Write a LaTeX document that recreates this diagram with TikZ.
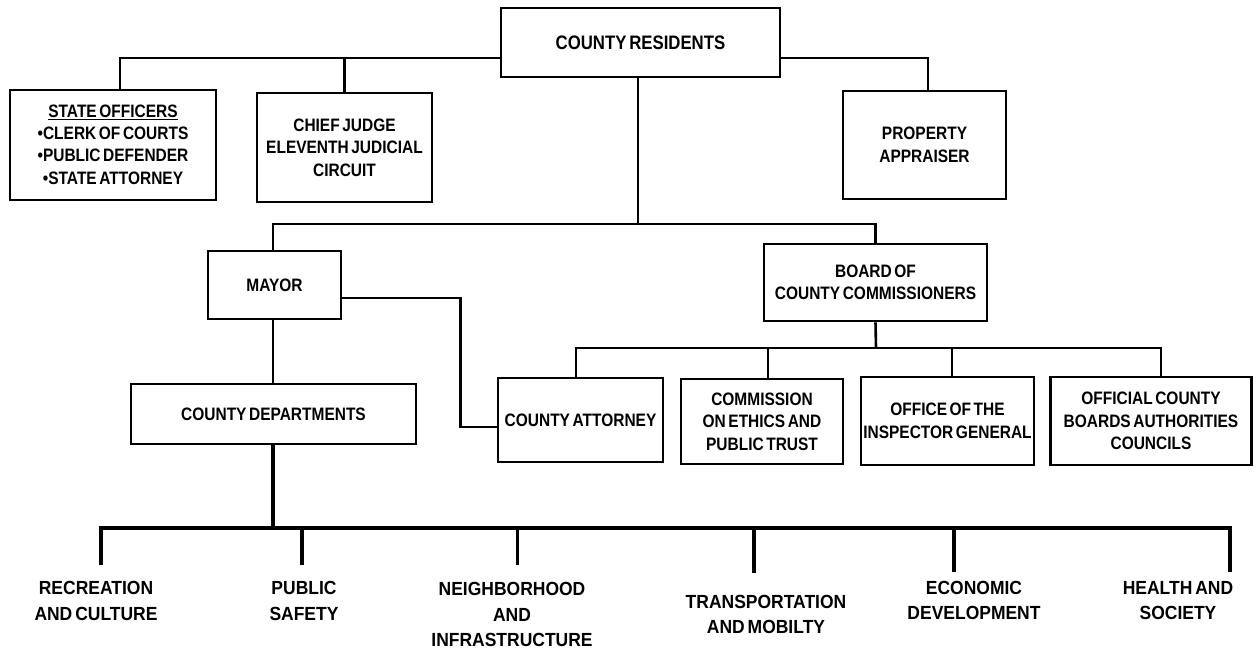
\documentclass[tikz,border=0pt]{standalone}
\usepackage{fontspec}
\setmainfont{Liberation Sans}[FakeStretch=0.86,WordSpace=0.6]
\newfontfamily\lblfont{Liberation Sans}[FakeStretch=0.92,WordSpace=0.6]
\begin{document}
\begin{tikzpicture}[x=1pt,y=-1pt,
  box/.style={draw,line width=2.7pt,inner sep=0pt,align=center,font=\fontsize{18}{22.5}\selectfont\bfseries},
  conn/.style={line width=2.6pt},
  bus/.style={line width=3.8pt},
  lbl/.style={align=center,inner sep=0pt,font=\lblfont\fontsize{19}{25.5}\selectfont\bfseries}]
\useasboundingbox (0,0) rectangle (1257,652);

% boxes
\node[box,minimum width=279pt,minimum height=69pt,font=\fontsize{19.5}{22.5}\selectfont\bfseries] (res) at (640.5,42.5) {COUNTY RESIDENTS};
\node[box,minimum width=206pt,minimum height=110pt] (state) at (113,145) {\underline{STATE OFFICERS}\\[-1pt] •CLERK OF COURTS\\ •PUBLIC DEFENDER\\ •STATE ATTORNEY};
\node[box,minimum width=175pt,minimum height=109pt] (chief) at (344.5,147.5) {CHIEF JUDGE\\ ELEVENTH JUDICIAL\\ CIRCUIT};
\node[box,minimum width=163pt,minimum height=108pt] (prop) at (924.5,145) {PROPERTY\\ APPRAISER};
\node[box,minimum width=133pt,minimum height=68pt] (mayor) at (274.5,285) {MAYOR};
\node[box,minimum width=223pt,minimum height=77pt] (board) at (875.5,282.5) {BOARD OF\\ COUNTY COMMISSIONERS};
\node[box,minimum width=285pt,minimum height=60pt] (dept) at (273.5,414) {COUNTY DEPARTMENTS};
\node[box,minimum width=165pt,minimum height=84pt] (att) at (580.5,420) {COUNTY ATTORNEY};
\node[box,minimum width=162pt,minimum height=85pt] (comm) at (762,421.5) {COMMISSION\\ ON ETHICS AND\\ PUBLIC TRUST};
\node[box,minimum width=173pt,minimum height=88pt] (insp) at (947.5,421) {OFFICE OF THE\\ INSPECTOR GENERAL};
\node[box,minimum width=201pt,minimum height=88pt] (off) at (1151,421) {OFFICIAL COUNTY\\ BOARDS AUTHORITIES\\ COUNCILS};

% bottom labels
\node[lbl] (rec) at (96,601) {RECREATION\\ AND CULTURE};
\node[lbl] (pub) at (304,601) {PUBLIC\\ SAFETY};
\node[lbl] (nei) at (512,614.5) {NEIGHBORHOOD\\ AND\\ INFRASTRUCTURE};
\node[lbl] (tra) at (766,614.5) {TRANSPORTATION\\ AND MOBILTY};
\node[lbl] (eco) at (974,600.5) {ECONOMIC\\ DEVELOPMENT};
\node[lbl] (hea) at (1178,600.5) {HEALTH AND\\ SOCIETY};

% junctions
\coordinate (j1) at ([yshift=-15.5pt]res.west);
\coordinate (j2) at (638,224);
\coordinate (j3) at (876,348);
\coordinate (bus) at (273,528);
\coordinate (b1) at (101,565);
\coordinate (b2) at (302,565);
\coordinate (b3) at (517.5,565);
\coordinate (b4) at (754,573);
\coordinate (b5) at (954,572);
\coordinate (b6) at (1230,572);

% top connectors
\draw[conn] (j1) -| ([xshift=7pt]state.north);
\draw[conn] (chief.north) -- (chief.north |- j1);
\draw[conn] ([yshift=-15.5pt]res.east) -| ([xshift=3.5pt]prop.north);
\draw[conn] ([xshift=-2.5pt]res.south) -- (j2);
\draw[conn] ([xshift=-1.5pt]mayor.north) |- (j2) -| (board.north);

% mayor connectors
\draw[conn] ([yshift=-13pt]mayor.east) -- ++(118,0) |- ([yshift=-7pt]att.west);
\draw[conn] ([xshift=-1.5pt]mayor.south) -- ([xshift=-0.5pt]dept.north);

% board connectors
\draw[conn] (board.south) -- (j3);
\draw[conn] ([xshift=-4.5pt]att.north) |- (j3) -| ([xshift=10pt]off.north);
\draw[conn] ([xshift=6pt]comm.north) -- ([xshift=6pt]comm.north |- j3);
\draw[conn] ([xshift=4.5pt]insp.north) -- ([xshift=4.5pt]insp.north |- j3);

% departments bus
\draw[bus] ([xshift=-0.5pt]dept.south) -- (bus);
\draw[bus] (b1) -- (b1 |- bus) -- (b6 |- bus) -- (b6);
\draw[bus] (b2) -- (b2 |- bus);
\draw[bus] (b3) -- (b3 |- bus);
\draw[bus] (b4) -- (b4 |- bus);
\draw[bus] (b5) -- (b5 |- bus);
\end{tikzpicture}
\end{document}
